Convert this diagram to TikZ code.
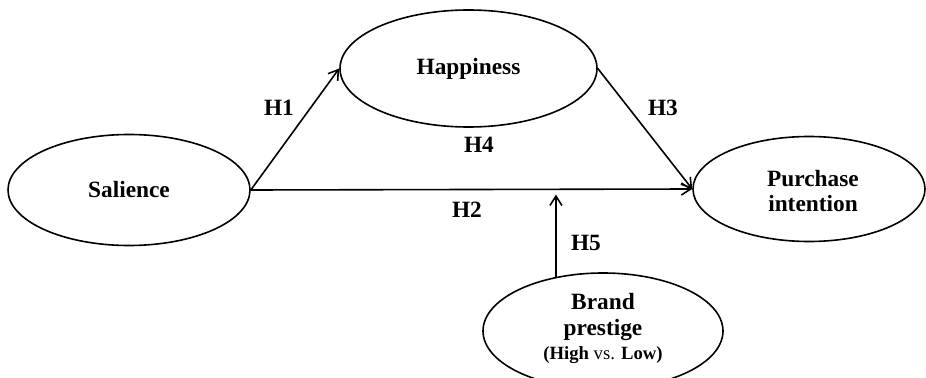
\documentclass[tikz,border=0pt]{standalone}
\usepackage{fontspec}
\setmainfont{Liberation Serif}
\usetikzlibrary{arrows.meta,shapes.geometric}
\begin{document}
\begin{tikzpicture}[x=0.75pt,y=-0.75pt,
  var/.style={draw,ellipse,line width=1.2pt,inner sep=0pt,align=center,
    font=\fontsize{17.5pt}{21pt}\selectfont\bfseries},
  conn/.style={line width=1.2pt,-{Straight Barb[length=7pt,width=9pt,line width=1.2pt]}},
  hlab/.style={font=\fontsize{17.5pt}{21pt}\selectfont\bfseries}]
\clip (0,0) rectangle (926,378);
\useasboundingbox (0,0) rectangle (926,378);
\node[var,minimum width=242*0.75pt,minimum height=111*0.75pt] (sal) at (129,190) {Salience};
\node[var,minimum width=257*0.75pt,minimum height=117*0.75pt] (hap) at (468.5,68.5) {Happiness};
\node[var,minimum width=232*0.75pt,minimum height=105*0.75pt] (pur) at (809,189) {};
\node[hlab,align=center] (purt) at (813,191) {Purchase\\[-2pt]intention};
\node[var,minimum width=240*0.75pt,minimum height=116*0.75pt] (bra) at (603,331) {};
\node[hlab,align=center] (brat) at (603,317) {Brand\\[-2pt]prestige};
\node[font=\fontsize{14pt}{16pt}\selectfont] (bral) at (603,355) {\textbf{(High} vs. \textbf{Low)}};
\draw[conn] (sal.east) -- (hap.west);
\draw[conn] (hap.east) -- (pur.west);
\draw[conn] (sal.east) -- (pur.west);
\coordinate (mid) at (557,190);
\draw[conn,shorten >=3.5pt] (bra.131) -- (bra.131 |- mid);
\node[hlab] (h1) at (279,108) {H1};
\node[hlab] (h3) at (663,108) {H3};
\node[hlab] (h4) at (479,145) {H4};
\node[hlab] (h2) at (467,210) {H2};
\node[hlab] (h5) at (586,243) {H5};
\end{tikzpicture}
\end{document}
